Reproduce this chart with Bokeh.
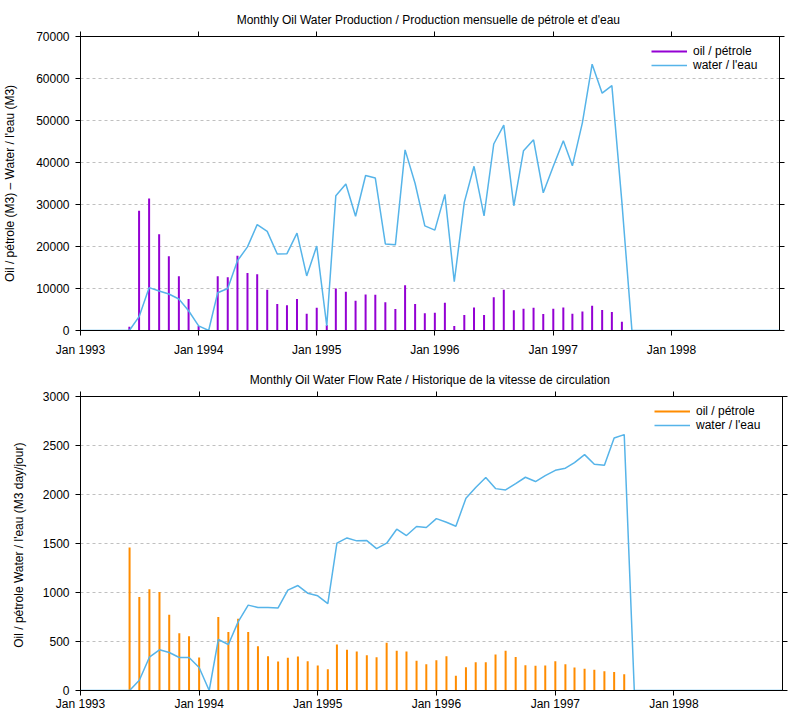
import pandas as pd
from bokeh.plotting import figure
from bokeh.models import (Range1d, LinearAxis, DatetimeAxis, FixedTicker,
                          DatetimeTickFormatter, CustomJSTickFormatter,
                          Legend, LegendItem, ColumnDataSource, BasicTickFormatter)
from bokeh.layouts import column
from bokeh.embed import file_html
from bokeh.resources import INLINE

# ---------------- data ----------------
months = pd.date_range("1993-01-01", "1998-12-01", freq="MS")
year_ticks = ["1993-01-01", "1994-01-01", "1995-01-01", "1996-01-01",
              "1997-01-01", "1998-01-01"]

# monthly production (M3)
oil_prod = [
    0, 0, 0, 0, 0, 900, 28500, 31400, 22900, 17700, 12900, 7500,            # 1993
    1100, 0, 12900, 12700, 17800, 13700, 13400, 9700, 6300, 6000, 7500, 4000,  # 1994
    5400, 1300, 10000, 9200, 7100, 8600, 8500, 6700, 5100, 10800, 6300, 4100,  # 1995
    4200, 6600, 1100, 3700, 5500, 3700, 7900, 9700, 4800, 5200, 5400, 3900,    # 1996
    5200, 5500, 4000, 4500, 5900, 4900, 4400, 2100, 0, 0, 0, 0,                # 1997
    0, 0, 0, 0, 0, 0, 0, 0, 0, 0, 0, 0,                                        # 1998
]
water_prod = [
    0, 0, 0, 0, 0, 0, 3300, 10200, 9400, 8700, 7500, 4700,
    1100, 0, 9000, 10000, 16600, 19900, 25200, 23600, 18200, 18300, 23200, 13000,
    20100, 1100, 32100, 34900, 27200, 36900, 36300, 20600, 20400, 43000, 35000, 24900,
    23900, 32400, 11600, 30500, 39100, 27300, 44400, 48900, 29700, 42800, 45400, 32800,
    39100, 45200, 39200, 49500, 63400, 56500, 58300, 30500, 0, 0, 0, 0,
    0, 0, 0, 0, 0, 0, 0, 0, 0, 0, 0, 0,
]
# monthly flow rate (M3 day/jour)
oil_rate = [
    0, 0, 0, 0, 0, 1459, 955, 1034, 1006, 772, 585, 554,
    337, 0, 751, 598, 731, 598, 452, 350, 296, 333, 347, 299,
    255, 218, 469, 415, 398, 360, 340, 486, 405, 398, 303, 269,
    309, 350, 150, 238, 289, 289, 367, 405, 343, 258, 252, 255,
    299, 269, 235, 221, 211, 197, 190, 167, 0, 0, 0, 0,
    0, 0, 0, 0, 0, 0, 0, 0, 0, 0, 0, 0,
]
water_rate = [
    0, 0, 0, 0, 0, 0, 105, 340, 415, 388, 337, 337,
    235, 0, 520, 469, 700, 871, 847, 847, 843, 1024, 1071, 993,
    966, 887, 1503, 1557, 1527, 1530, 1448, 1503, 1646, 1581, 1673, 1663,
    1754, 1717, 1676, 1962, 2071, 2173, 2060, 2047, 2111, 2176, 2132, 2193,
    2247, 2268, 2326, 2407, 2309, 2298, 2577, 2611, 0, 0, 0, 0,
    0, 0, 0, 0, 0, 0, 0, 0, 0, 0, 0, 0,
]

top_title = "Monthly Oil  Water Production / Production mensuelle de pétrole et d'eau"
bot_title = "Monthly Oil  Water Flow Rate / Historique de la vitesse de circulation"
top_ylabel = "Oil / pétrole (M3) – Water / l'eau (M3)"
bot_ylabel = "Oil / pétrole  Water / l'eau (M3 day/jour)"
oil_label = "oil / pétrole"
water_label = "water / l'eau"
top_yticks = [0, 10000, 20000, 30000, 40000, 50000, 60000, 70000]
bot_yticks = [0, 500, 1000, 1500, 2000, 2500, 3000]

FONT = "Liberation Sans"
WATER_COLOR = "#56b4e9"


def make_panel(title, ylabel, oil, water, oil_color, yticks,
               border_left, frame_w, border_bottom, label_standoff, x_standoff):
    x_ticks = [pd.Timestamp(t).value // 10**6 for t in year_ticks]
    xt = FixedTicker(ticks=x_ticks)
    yt = FixedTicker(ticks=yticks)
    p = figure(x_axis_type="datetime", output_backend="svg", toolbar_location=None,
               frame_width=frame_w, frame_height=294,
               min_border_left=border_left, min_border_right=27,
               min_border_top=36, min_border_bottom=border_bottom,
               x_range=Range1d(months[0], months[-1]),
               y_range=Range1d(yticks[0], yticks[-1]))
    p.title.text = title
    p.title.align = "center"
    p.title.text_font = FONT
    p.title.text_font_style = "normal"
    p.title.text_font_size = "12px"
    p.title.text_color = "#000000"
    p.title.standoff = 10

    fmt = DatetimeTickFormatter(years="%b %Y", months="%b %Y", days="%b %Y",
                                hours="%b %Y", hourmin="%b %Y", minutes="%b %Y",
                                minsec="%b %Y", seconds="%b %Y", milliseconds="%b %Y",
                                microseconds="%b %Y")
    xa = p.xaxis[0]
    xa.ticker = xt
    xa.formatter = fmt
    ya = p.yaxis[0]
    ya.ticker = yt
    ya.formatter = BasicTickFormatter(use_scientific=False)
    ya.axis_label = ylabel
    ya.axis_label_text_font = FONT
    ya.axis_label_text_font_style = "normal"
    ya.axis_label_text_font_size = "12px"
    ya.axis_label_text_color = "#000000"
    ya.axis_label_standoff = label_standoff

    blank = CustomJSTickFormatter(code="return ''")
    top_ax = DatetimeAxis(ticker=xt, formatter=blank)
    right_ax = LinearAxis(ticker=yt, formatter=blank)
    p.add_layout(top_ax, "above")
    p.add_layout(right_ax, "right")

    for ax in [xa, ya, top_ax, right_ax]:
        ax.axis_line_color = "#000000"
        ax.axis_line_width = 1
        ax.major_tick_line_color = "#000000"
        ax.major_tick_out = 5
        ax.major_tick_in = 0
        ax.minor_tick_line_color = None
        ax.major_label_text_font = FONT
        ax.major_label_text_font_size = "12px"
        ax.major_label_text_color = "#000000"
    xa.major_label_standoff = x_standoff
    ya.major_label_standoff = 6
    top_ax.major_label_standoff = 0
    right_ax.major_label_standoff = 0

    p.xgrid.grid_line_color = None
    p.ygrid.ticker = yt
    p.ygrid.grid_line_color = "#c0c0c0"
    p.ygrid.grid_line_dash = "3 3"
    p.ygrid.grid_line_width = 1
    p.outline_line_color = "#000000"
    p.outline_line_width = 1

    oil_idx = [i for i, v in enumerate(oil) if v > 0]
    oil_src = ColumnDataSource(dict(x=[months[i] for i in oil_idx],
                                    base=[0] * len(oil_idx),
                                    v=[oil[i] for i in oil_idx]))
    seg = p.segment(x0="x", y0="base", x1="x", y1="v", source=oil_src,
                    line_color=oil_color, line_width=2)
    water_src = ColumnDataSource(dict(x=months, v=water))
    ln = p.line(x="x", y="v", source=water_src, line_color=WATER_COLOR, line_width=1.5)

    legend = Legend(items=[LegendItem(label=oil_label, renderers=[seg]),
                           LegendItem(label=water_label, renderers=[ln])],
                    location=(frame_w - 130, 256), border_line_alpha=0,
                    background_fill_alpha=0, label_text_font=FONT,
                    label_text_font_size="12px", label_text_color="#000000",
                    glyph_width=36, glyph_height=10, label_height=10,
                    spacing=0, padding=2, margin=0, label_standoff=6)
    p.add_layout(legend)
    return p


p1 = make_panel(top_title, top_ylabel, oil_prod, water_prod, "#9400d3",
                top_yticks, 80, 699, 30, 16, 7)
p2 = make_panel(bot_title, bot_ylabel, oil_rate, water_rate, "#ff8c00",
                bot_yticks, 77, 702, 30, 14, 1)

layout = column(p1, p2, spacing=0)
open("out.html", "w").write(file_html(layout, INLINE))
